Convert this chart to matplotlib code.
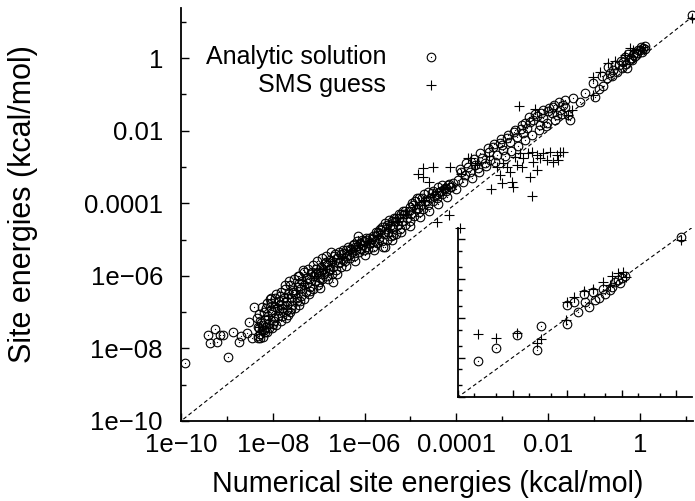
import numpy as np
import matplotlib
matplotlib.use("Agg")
import matplotlib.pyplot as plt

plt.rcParams['font.family'] = ['Liberation Sans', 'DejaVu Sans']

# ---------------- data (log10 values) ----------------
analytic_lx = [
    -9.91,-9.41,-9.37,-9.26,-9.22,-9.15,-9.08,-8.98,-8.87,-8.74,-8.69,-8.56,-8.52,-8.45,-8.41,-8.32,-8.28,
    -8.33,-8.28,-8.31,-8.26,-8.35,-8.29,-8.24,-8.32,
    -8.22,-8.18,-8.21,-8.16,-8.19,-8.23,-8.15,
    -8.12,-8.08,-8.10,-8.05,-8.13,-8.07,-8.09,
    -8.02,-7.98,-8.01,-7.96,-8.03,-7.97,
    -7.92,-7.88,-7.91,-7.86,-7.93,-7.87,
    -7.82,-7.78,-7.81,-7.76,-7.83,-7.79,
    -7.72,-7.68,-7.71,-7.66,-7.73,-7.69,
    -7.62,-7.58,-7.61,-7.56,-7.63,
    -7.52,-7.48,-7.51,-7.46,-7.53,-7.47,
    -7.42,-7.38,-7.41,-7.36,-7.43,
    -7.32,-7.28,-7.31,-7.26,-7.33,
    -7.22,-7.18,-7.21,-7.16,-7.23,
    -7.12,-7.08,-7.11,-7.06,-7.13,
    -7.02,-6.98,-7.01,-6.96,-7.03,
    -6.92,-6.88,-6.91,-6.86,-6.93,
    -6.82,-6.78,-6.81,-6.76,-6.83,
    -6.72,-6.68,-6.71,-6.66,-6.73,
    -6.62,-6.58,-6.61,-6.56,
    -6.52,-6.48,-6.51,-6.46,
    -6.42,-6.38,-6.41,-6.36,
    -6.32,-6.28,-6.31,-6.26,
    -6.22,-6.18,-6.21,-6.16,
    -6.12,-6.08,-6.11,-6.06,
    -6.02,-5.98,-6.01,-5.96,
    -5.92,-5.88,-5.91,
    -5.82,-5.78,-5.81,-5.76,
    -5.72,-5.68,-5.71,-5.66,
    -5.62,-5.58,-5.61,-5.56,
    -5.52,-5.48,-5.51,-5.46,
    -5.42,-5.38,-5.41,-5.36,
    -5.32,-5.28,-5.31,-5.26,
    -5.22,-5.18,-5.21,-5.16,
    -5.12,-5.08,-5.11,
    -5.02,-4.98,-5.01,-4.96,
    -4.92,-4.88,-4.91,-4.86,
    -4.82,-4.78,-4.81,
    -4.72,-4.68,-4.71,
    -4.62,-4.58,-4.61,
    -4.52,-4.48,-4.51,
    -4.42,-4.38,-4.41,
    -4.32,-4.28,-4.31,
    -4.22,-4.18,
    -4.12,-4.08,
    -7.45,-6.69,-6.97,-7.67,-6.14,-5.38,-5.56,
    -4.14,-3.97,-3.81,-3.70,-3.53,-3.38,-3.27,-3.12,-3.05,-2.98,-2.83,-2.68,-2.55,-2.46,-2.33,-2.18,-2.11,-2.03,-1.92,-1.81,-1.74,-1.68,-1.63,-1.53,-1.57,
    -3.90,-3.75,-3.60,-3.45,-3.30,-3.20,-3.00,-2.90,-2.75,-2.60,-2.50,-2.40,-2.25,-2.15,-2.00,-1.90,
    -1.46,-1.63,-1.02,-0.98,-0.83,-0.81,-0.65,-0.70,-0.54,-0.50,-0.39,-0.28,-0.37,-0.17,-0.15,-0.07,0.00,0.07,1.13,
    -0.45,-0.30,-0.20,-0.10,0.05,0.10,-0.25,-0.60,-0.90,-1.20,-1.30,
    -8.27,-8.14,-8.04,-7.95,-7.84,-7.74,-7.64,-7.55,-7.44,-7.35,-7.25,-7.15,-7.05,-6.95,-6.85,-6.75,-6.64,-6.54,-6.44,-6.34,-6.24,
    -6.14,-6.04,-5.94,-5.84,-5.74,-5.64,-5.54,-5.44,-5.34,-5.24,-5.14,-5.04,-4.94,-4.84,-4.74,-4.64,-4.54,-4.44,-4.34,-4.24,-4.16,
    -8.20,-8.00,-7.80,-7.60,-7.40,-7.20,-7.00,-6.80,-6.60,-6.40,-6.20,-6.00,-5.80,-5.60,-5.40,-5.20,-5.00,-4.80,
    -4.60,-4.40,-4.20,-4.00,-3.85,-3.65,-3.50,-3.35,-3.15,-2.95,-2.80,-2.65,-2.50,-2.35,-2.20,-2.05,-1.85,-1.70,
    -3.92,-3.78,-3.62,-3.48,-3.32,-3.18,-3.02,-2.88,-2.72,-2.58,-2.42,-2.28,-2.12,-1.98,-1.88,-1.76,
    -0.42,-0.33,-0.26,-0.12,-0.05,0.03,0.12,-0.58,-0.72,
]
analytic_ly = [
    -8.40,-7.63,-7.85,-7.47,-7.82,-7.63,-7.63,-8.24,-7.55,-7.82,-7.66,-7.58,-7.27,-7.71,-6.86,-7.41,-7.71,
    -7.72,-7.60,-7.45,-7.30,-7.15,-7.05,-7.50,-7.65,
    -7.68,-7.55,-7.35,-7.20,-7.00,-6.85,-7.40,
    -7.55,-7.30,-7.10,-6.95,-6.75,-6.65,-7.45,
    -7.45,-7.25,-7.00,-6.85,-6.60,-7.15,
    -7.35,-7.10,-6.90,-6.70,-6.50,-6.95,
    -7.25,-7.00,-6.80,-6.60,-6.45,-6.90,
    -7.15,-6.95,-6.70,-6.50,-6.35,-6.80,
    -7.00,-6.80,-6.60,-6.45,-6.25,
    -6.90,-6.70,-6.50,-6.30,-6.10,-6.60,
    -6.80,-6.55,-6.35,-6.15,-6.00,
    -6.65,-6.45,-6.25,-6.05,-5.90,
    -6.50,-6.30,-6.10,-5.95,-5.80,
    -6.35,-6.15,-6.00,-5.80,-5.70,
    -6.25,-6.05,-5.90,-5.75,-5.60,
    -6.10,-5.95,-5.80,-5.65,-5.50,
    -6.00,-5.85,-5.70,-5.55,-5.45,
    -5.95,-5.75,-5.60,-5.45,-5.35,
    -5.85,-5.65,-5.50,-5.35,
    -5.75,-5.55,-5.40,-5.30,
    -5.60,-5.45,-5.30,-5.20,
    -5.50,-5.35,-5.25,-5.15,
    -5.45,-5.30,-5.20,-5.05,
    -5.35,-5.25,-5.10,-5.00,
    -5.30,-5.20,-5.05,-4.95,
    -5.25,-5.10,-4.95,
    -5.20,-5.05,-4.90,-4.80,
    -5.10,-4.95,-4.80,-4.70,
    -5.05,-4.85,-4.65,-4.55,
    -5.00,-4.80,-4.60,-4.45,
    -4.90,-4.70,-4.50,-4.40,
    -4.85,-4.60,-4.40,-4.30,
    -4.70,-4.50,-4.30,-4.20,
    -4.60,-4.40,-4.20,
    -4.50,-4.30,-4.10,-4.00,
    -4.35,-4.15,-3.95,-3.85,
    -4.25,-4.05,-3.85,
    -4.15,-3.95,-3.75,
    -4.05,-3.85,-3.70,
    -3.95,-3.80,-3.65,
    -3.85,-3.70,-3.55,
    -3.75,-3.60,-3.50,
    -3.65,-3.50,
    -3.55,-3.45,
    -6.00,-6.17,-6.34,-7.08,-4.90,-4.88,-5.20,
    -3.55,-3.36,-3.22,-3.14,-3.03,-2.89,-2.81,-2.67,-2.34,-2.53,-2.31,-2.18,-2.07,-1.93,-1.71,-1.85,-1.65,-1.79,-1.52,-1.57,-1.43,-1.29,-1.16,-1.71,-1.57,
    -3.15,-3.00,-2.95,-2.75,-2.60,-2.45,-2.40,-2.20,-2.05,-1.95,-1.80,-1.75,-1.60,-1.50,-1.45,-1.35,
    -1.10,-1.35,-0.69,-1.07,-0.50,-0.77,-0.41,-0.25,-0.19,-0.39,-0.28,-0.28,-0.11,-0.06,0.08,0.14,0.22,0.28,1.18,
    -0.20,-0.15,0.00,0.05,0.18,0.25,-0.05,-0.50,-0.85,-0.95,-1.20,
    -7.25,-6.90,-6.75,-6.60,-6.55,-6.25,-6.15,-6.40,-6.20,-5.85,-6.20,-5.90,-5.95,-5.90,-5.62,-5.80,-5.40,-5.62,-5.38,-5.42,-5.12,
    -5.18,-5.15,-5.02,-4.98,-4.88,-4.75,-4.70,-4.62,-4.50,-4.40,-4.30,-4.20,-4.05,-4.12,-3.85,-3.95,-3.72,-3.78,-3.65,-3.58,-3.48,
    -7.48,-7.32,-7.12,-6.92,-6.68,-6.42,-6.18,-6.08,-5.95,-5.72,-5.58,-5.42,-5.30,-5.20,-5.02,-4.80,-4.62,-4.38,
    -4.22,-4.02,-3.82,-3.62,-3.42,-3.30,-3.15,-2.98,-2.85,-2.70,-2.55,-2.42,-2.25,-2.12,-1.98,-1.88,-1.70,-1.55,
    -3.05,-2.88,-2.78,-2.62,-2.48,-2.38,-2.22,-2.12,-1.98,-1.85,-1.62,-1.55,-1.42,-1.38,-1.30,-1.22,
    -0.08,0.02,0.10,0.15,0.22,0.30,0.32,-0.32,-0.55,
]

sms_lx = [
    -2.64,-2.29,-4.84,-4.73,-4.73,-4.51,-4.60,-4.14,-3.75,-3.68,-3.55,-3.25,-3.01,-2.77,-2.35,-4.16,-4.42,-3.92,
    -3.12,-2.98,-2.83,-2.72,-2.61,-2.55,-2.44,-2.35,-2.33,-2.24,-2.18,-2.11,-2.03,-1.96,-1.90,-1.81,-1.74,-1.68,-1.79,-2.24,-2.40,-2.79,-3.05,-2.90,-2.68,-2.57,
    -1.48,-1.02,-1.02,-0.87,-0.70,-0.54,-0.15,0.00,0.07,-0.33,-0.22,1.13,-1.57,
    -8.30,-8.10,-7.90,-7.70,-7.50,-7.30,-7.10,-6.90,-6.70,-6.50,-6.30,-6.10,-5.90,-5.70,-5.50,-5.30,-5.10,-4.90,-4.70,-4.50,-4.30,-3.90,-3.60,-3.30,
]
sms_ly = [
    -1.32,-1.40,-3.20,-3.03,-3.28,-3.00,-3.42,-3.00,-2.75,-2.75,-2.89,-3.61,-3.44,-3.55,-3.80,-4.33,-4.52,-4.68,
    -3.00,-2.89,-3.14,-2.73,-2.62,-2.75,-2.62,-2.59,-2.87,-2.67,-2.75,-2.62,-2.81,-2.59,-2.87,-2.67,-2.59,-2.59,-2.81,-3.09,-3.28,-3.42,-3.22,-3.00,-2.95,-3.00,
    -1.43,-1.02,-0.52,-0.39,-0.14,-0.08,0.22,0.22,0.30,0.08,0.28,1.10,-1.57,
    -7.40,-7.10,-6.80,-6.60,-6.40,-6.20,-6.00,-5.80,-5.60,-5.50,-5.30,-5.15,-5.05,-4.90,-4.70,-4.50,-4.30,-4.05,-3.90,-3.75,-3.60,-3.20,-2.95,-2.70,
]

inset_analytic_lx = [-2.63,-2.30,-1.92,-1.55,-1.48,-1.00,-1.00,-0.87,-0.80,-0.69,-0.67,-0.60,-0.52,-0.49,-0.41,-0.34,-0.30,-0.17,-0.12,-0.06,0.01,0.06,-0.03,-0.21,1.09]
inset_analytic_ly = [-2.09,-1.76,-1.43,-1.81,-1.20,-0.67,-1.15,-0.59,-0.85,-0.39,-0.59,-0.72,-0.34,-0.54,-0.49,-0.27,-0.39,-0.22,-0.09,-0.04,0.01,0.06,-0.11,-0.29,1.05]
inset_sms_lx = [-2.63,-2.30,-1.92,-1.55,-1.48,-1.00,-1.02,-0.87,-0.69,-0.52,-0.34,-0.17,-0.06,0.03,0.08,-0.21,1.09]
inset_sms_ly = [-1.40,-1.50,-1.38,-1.63,-1.53,-0.59,-1.05,-0.47,-0.32,-0.27,-0.09,0.06,0.14,0.16,0.04,-0.16,0.97]

x_major = [1e-10, 1e-8, 1e-6, 1e-4, 1e-2, 1]
x_labels = ['1e\u221210', '1e\u221208', '1e\u221206', '0.0001', '0.01', '1']
y_major = x_major
y_labels = x_labels
series_labels = ['Analytic solution', 'SMS guess']

# ---------------- figure ----------------
W, H = 695, 501
fig = plt.figure(figsize=(W / 100, H / 100), dpi=100)

def fx(px):
    return px / W

def fy(py):
    return 1 - py / H

def style_axes(ax):
    for s in ['top', 'right']:
        ax.spines[s].set_visible(False)
    for s in ['left', 'bottom']:
        ax.spines[s].set_linewidth(1.3)
    ax.set_xscale('log')
    ax.set_yscale('log')
    ax.patch.set_alpha(0)

def draw_points(ax, lx, ly, kind):
    x = 10 ** np.asarray(lx)
    y = 10 ** np.asarray(ly)
    if kind == 'o':
        ax.plot(x, y, linestyle='none', marker='o', ms=6.2, mfc='none',
                mec='black', mew=0.8, clip_on=False)
        ax.plot(x, y, linestyle='none', marker='o', ms=0.9, mfc='black',
                mec='black', mew=0, clip_on=False)
    else:
        ax.plot(x, y, linestyle='none', marker='+', ms=7, mec='black',
                mew=0.8, clip_on=False)

# main axes
L, R, T, B = 181, 693, 8, 421
ax = fig.add_axes([fx(L), fy(B), fx(R) - fx(L), fy(T) - fy(B)])
style_axes(ax)
ax.set_xlim(1e-10, 10 ** 1.155)
ax.set_ylim(1e-10, 10 ** 1.38)
ax.plot([1e-12, 1e3], [1e-12, 1e3], color='black', lw=0.8, dashes=(3.5, 2.5))
draw_points(ax, sms_lx, sms_ly, '+')
draw_points(ax, analytic_lx, analytic_ly, 'o')

ax.set_xticks(x_major)
ax.set_xticklabels(x_labels)
ax.set_yticks(y_major)
ax.set_yticklabels(y_labels)
ax.xaxis.set_minor_locator(matplotlib.ticker.FixedLocator([1e-9, 1e-7, 1e-5, 1e-3, 1e-1, 10]))
ax.yaxis.set_minor_locator(matplotlib.ticker.FixedLocator([1e-9, 1e-7, 1e-5, 1e-3, 1e-1, 10]))
ax.xaxis.set_minor_formatter(matplotlib.ticker.NullFormatter())
ax.yaxis.set_minor_formatter(matplotlib.ticker.NullFormatter())
ax.tick_params(which='major', direction='in', length=6, width=1, labelsize=18.5, pad=9)
ax.tick_params(which='minor', direction='in', length=3.5, width=1)
ax.tick_params(axis='y', which='major', pad=13)

fig.text(fx(428), fy(484), 'Numerical site energies (kcal/mol)', ha='center', va='center', fontsize=20.6)
fig.text(fx(23), fy(204), 'Site energies (kcal/mol)', ha='center', va='center', rotation=90, fontsize=22)

# legend (text right-aligned, marker on the right)
fig.text(fx(386), fy(57), series_labels[0], ha='right', va='center', fontsize=18)
fig.text(fx(386), fy(85), series_labels[1], ha='right', va='center', fontsize=18)
fig.add_artist(matplotlib.lines.Line2D([fx(431)], [fy(57)], transform=fig.transFigure, linestyle='none',
                                       marker='o', ms=6.2, mfc='none', mec='black', mew=0.8))
fig.add_artist(matplotlib.lines.Line2D([fx(431)], [fy(57)], transform=fig.transFigure, linestyle='none',
                                       marker='o', ms=0.9, mfc='black', mec='black', mew=0))
fig.add_artist(matplotlib.lines.Line2D([fx(431)], [fy(85)], transform=fig.transFigure, linestyle='none',
                                       marker='+', ms=7, mec='black', mew=0.8))

# inset
iL, iR, iT, iB = 458, 692, 228, 397
axi = fig.add_axes([fx(iL), fy(iB), fx(iR) - fx(iL), fy(iT) - fy(iB)])
style_axes(axi)
axi.set_xlim(1e-3, 10 ** 1.29)
axi.set_ylim(1e-3, 10 ** 1.28)
axi.plot([1e-5, 1e3], [1e-5, 1e3], color='black', lw=0.8, dashes=(3.5, 2.5))
draw_points(axi, inset_sms_lx, inset_sms_ly, '+')
draw_points(axi, inset_analytic_lx, inset_analytic_ly, 'o')
axi.xaxis.set_major_locator(matplotlib.ticker.LogLocator(base=10, numticks=20))
axi.yaxis.set_major_locator(matplotlib.ticker.LogLocator(base=10, numticks=20))
axi.xaxis.set_minor_locator(matplotlib.ticker.LogLocator(base=10, subs=(2, 5), numticks=20))
axi.yaxis.set_minor_locator(matplotlib.ticker.LogLocator(base=10, subs=(2, 5), numticks=20))
axi.xaxis.set_major_formatter(matplotlib.ticker.NullFormatter())
axi.yaxis.set_major_formatter(matplotlib.ticker.NullFormatter())
axi.xaxis.set_minor_formatter(matplotlib.ticker.NullFormatter())
axi.yaxis.set_minor_formatter(matplotlib.ticker.NullFormatter())
axi.tick_params(which='major', direction='in', length=5, width=1)
axi.tick_params(which='minor', direction='in', length=3, width=1)

fig.savefig('out.png', dpi=100, facecolor='white')
